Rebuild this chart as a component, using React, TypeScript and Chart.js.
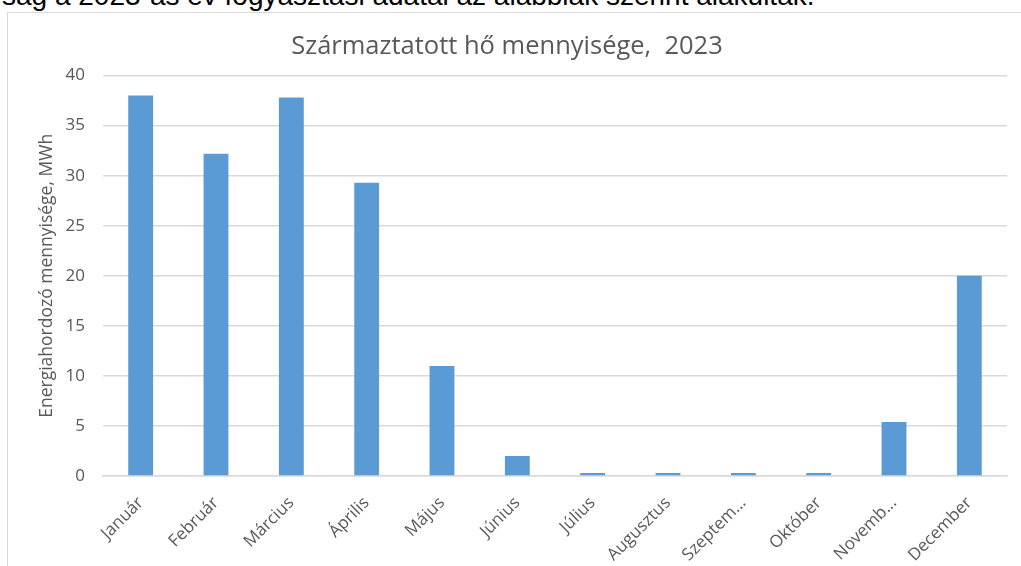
import React, { useEffect, useRef } from "react";
import { Chart, registerables } from "chart.js";

Chart.register(...registerables);

const months: string[] = [
  "Január",
  "Február",
  "Március",
  "Április",
  "Május",
  "Június",
  "Július",
  "Augusztus",
  "Szeptem...",
  "Október",
  "Novemb...",
  "December",
];
const heatMWh: number[] = [38, 32.2, 37.8, 29.3, 11, 2, 0.3, 0.3, 0.3, 0.3, 5.4, 20];
const yMin = 0;
const yMax = 40;
const yStep = 5;
const chartTitle = "Származtatott hő mennyisége,  2023";
const yAxisTitle = "Energiahordozó mennyisége, MWh";
const bodyText = "ság a 2023-as év fogyasztási adatai az alábbiak szerint alakultak.";

const FONT = "'Open Sans', sans-serif";
const GRAY = "#595959";
const GRID = "#d9d9d9";

export default function App() {
  const canvasRef = useRef<HTMLCanvasElement | null>(null);

  useEffect(() => {
    const canvas = canvasRef.current;
    if (!canvas) return;
    const chart = new Chart(canvas, {
      type: "bar",
      data: {
        labels: months,
        datasets: [
          {
            label: chartTitle,
            data: heatMWh,
            backgroundColor: "#5b9bd5",
            borderWidth: 0,
            barPercentage: 0.33,
            categoryPercentage: 1,
          },
        ],
      },
      options: {
        animation: false,
        responsive: false,
        maintainAspectRatio: false,
        layout: { padding: { left: 7, right: 14, top: 12, bottom: 0 } },
        plugins: {
          legend: { display: false },
          tooltip: { enabled: false },
          title: {
            display: true,
            text: chartTitle,
            color: GRAY,
            font: { family: FONT, size: 25.5, weight: "normal" },
            padding: { top: 19, bottom: 14 },
          },
        },
        scales: {
          x: {
            grid: { display: false, drawTicks: false },
            border: { display: true, color: GRID, width: 1.5 },
            ticks: {
              autoSkip: false,
              maxRotation: 45,
              minRotation: 45,
              padding: 17,
              color: GRAY,
              font: { family: FONT, size: 17 },
            },
            afterFit: (scale: any) => {
              scale.height = 90;
            },
          },
          y: {
            min: yMin,
            max: yMax,
            grid: { color: GRID, lineWidth: 1.5, drawTicks: false },
            border: { display: false },
            ticks: {
              stepSize: yStep,
              padding: 18,
              color: GRAY,
              font: { family: FONT, size: 17 },
            },
            title: {
              display: true,
              text: yAxisTitle,
              color: GRAY,
              font: { family: FONT, size: 17.5 },
              padding: { top: 30, bottom: 0 },
            },
            afterFit: (scale: any) => {
              scale.width = 96;
            },
          },
        },
      },
    });
    return () => chart.destroy();
  }, []);

  return (
    <div
      style={{
        position: "absolute",
        left: 0,
        top: 0,
        width: 1021,
        height: 566,
        background: "#ffffff",
        overflow: "hidden",
      }}
    >
      <div
        style={{
          position: "absolute",
          left: 2,
          top: -18,
          fontFamily: "'Liberation Sans', Arial, sans-serif",
          fontSize: 28,
          lineHeight: "28px",
          color: "#000",
          whiteSpace: "nowrap",
        }}
      >
        {bodyText}
      </div>
      <div
        style={{
          position: "absolute",
          left: 7,
          top: 12,
          width: 1100,
          height: 700,
          borderLeft: `1.5px solid ${GRID}`,
          borderTop: `1.5px solid ${GRID}`,
        }}
      />
      <canvas
        ref={canvasRef}
        width={1021}
        height={566}
        style={{ position: "absolute", left: 0, top: 0, width: 1021, height: 566 }}
      />
    </div>
  );
}
